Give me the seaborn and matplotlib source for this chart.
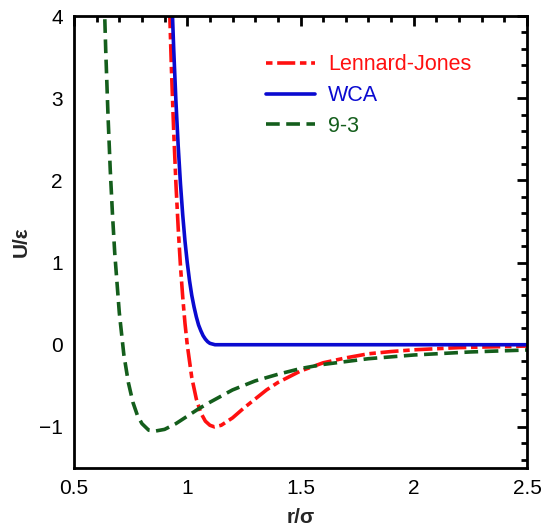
import pandas as pd
import matplotlib.pyplot as plt
import numpy as np
import seaborn as sns

sns.set_style("white")
plt.rcParams['font.family'] = ['Liberation Sans', 'DejaVu Sans']

# values
r_lj = [0.92, 0.93, 0.94, 0.95, 0.96, 0.97, 0.98, 0.99, 1.00, 1.02, 1.04, 1.06, 1.08,
        1.10, 1.12, 1.15, 1.20, 1.25, 1.30, 1.35, 1.40, 1.50, 1.60, 1.70, 1.80, 1.90,
        2.00, 2.20, 2.50]
u_lj = [4.28, 3.37, 2.61, 1.96, 1.42, 0.96, 0.58, 0.26, 0.0, -0.40, -0.66, -0.83, -0.93,
        -0.98, -1.00, -0.98, -0.89, -0.77, -0.66, -0.55, -0.46, -0.32, -0.22, -0.16, -0.11,
        -0.083, -0.062, -0.035, -0.016]

r_wca = [0.93, 0.94, 0.95, 0.96, 0.97, 0.98, 0.99, 1.00, 1.01, 1.02, 1.03, 1.04, 1.05,
         1.06, 1.07, 1.08, 1.09, 1.10, 1.1225, 2.50]
u_wca = [4.37, 3.61, 2.96, 2.42, 1.96, 1.58, 1.26, 1.00, 0.78, 0.60, 0.46, 0.34, 0.24,
         0.17, 0.11, 0.068, 0.037, 0.017, 0.0, 0.0]

r_93 = [0.63, 0.64, 0.65, 0.66, 0.67, 0.68, 0.70, 0.72, 0.74, 0.76, 0.78, 0.80, 0.83,
        0.86, 0.90, 0.95, 1.00, 1.05, 1.10, 1.20, 1.30, 1.40, 1.50, 1.60, 1.80, 2.00,
        2.25, 2.50]
u_93 = [4.53, 3.59, 2.80, 2.13, 1.58, 1.11, 0.39, -0.12, -0.46, -0.70, -0.86, -0.96, -1.04,
        -1.05, -1.03, -0.96, -0.87, -0.78, -0.70, -0.55, -0.44, -0.36, -0.29, -0.24, -0.17,
        -0.125, -0.088, -0.064]

fig = plt.figure(figsize=(5.42, 5.29), dpi=100)
ax = fig.add_axes([74/542, 1-468/529, (527-74)/542, (468-16)/529])

sns.lineplot(x=r_lj, y=u_lj, ax=ax, color='#ff1010', lw=2.6, label='Lennard-Jones',
             linestyle=(6.3, (5, 1.3, 1.8, 1.3)), sort=False)
sns.lineplot(x=r_wca, y=u_wca, ax=ax, color='#0a0ad0', lw=2.6, label='WCA', sort=False)
sns.lineplot(x=r_93, y=u_93, ax=ax, color='#145e1c', lw=2.6, label='9-3',
             linestyle=(0, (3.8, 1.8)), sort=False)

ax.set_xlim(0.5, 2.5)
ax.set_ylim(-1.5, 4)
ax.set_xticks([0.5, 1, 1.5, 2, 2.5])
ax.set_xticklabels(['0.5', '1', '1.5', '2', '2.5'])
ax.set_yticks([-1, 0, 1, 2, 3, 4])
ax.set_xticks(np.arange(0.6, 2.5, 0.1), minor=True)
ax.set_yticks(np.arange(-1.4, 4, 0.2), minor=True)
ax.tick_params(which='both', direction='in', top=True, right=True, width=2, colors='black',
               labelsize=15, pad=8)
ax.tick_params(which='major', length=7)
ax.tick_params(which='minor', length=4)
for s in ax.spines.values():
    s.set_linewidth(2)
    s.set_color('black')

ax.set_xlabel('r/σ', fontsize=15, fontweight='bold')
ax.set_ylabel('U/ε', fontsize=15, fontweight='bold')
ax.xaxis.set_label_coords(0.5, -0.088)
ax.yaxis.set_label_coords(-0.095, 0.5)

leg = ax.legend(loc='upper left', bbox_to_anchor=(0.38, 0.958), frameon=False,
                fontsize=15.5, handlelength=2.3, handletextpad=0.6, labelspacing=0.45,
                labelcolor='linecolor')

fig.savefig('out.png', dpi=100)
